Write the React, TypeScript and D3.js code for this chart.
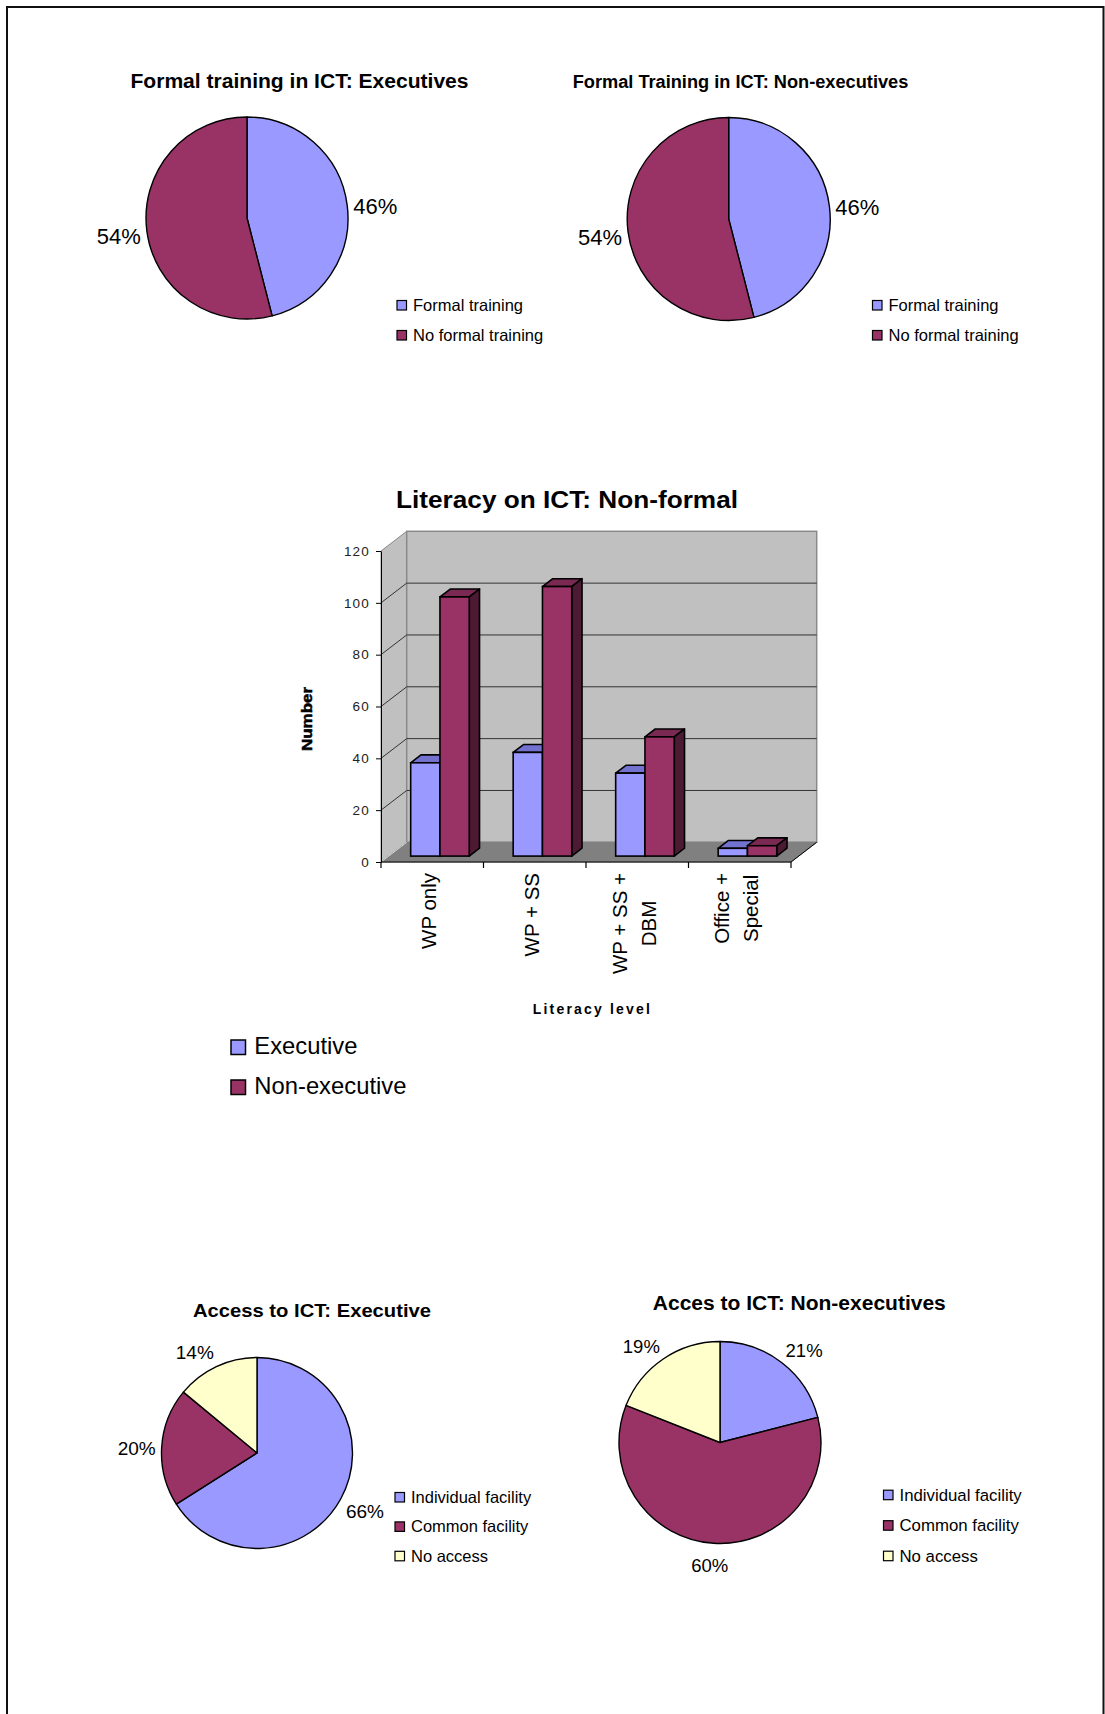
import React, { useEffect, useRef } from 'react';
import * as d3 from 'd3';

const FONT = '"Liberation Sans", Arial, Helvetica, sans-serif';
const BLUE = '#9999FF';
const MAROON = '#993366';
const CREAM = '#FFFFCC';

// pie data (percent)
const trainingCats = ['Formal training', 'No formal training'];
const trainingExec = [46, 54];
const trainingNonExec = [46, 54];
const accessCats = ['Individual facility', 'Common facility', 'No access'];
const accessExec = [66, 20, 14];
const accessNonExec = [21, 60, 19];

// bar data (counts)
const levels = ['WP only', 'WP + SS', 'WP + SS + DBM', 'Office + Special'];
const levelLines = [['WP only'], ['WP + SS'], ['WP + SS +', 'DBM'], ['Office +', 'Special']];
const groups = ['Executive', 'Non-executive'];
const execCounts = [36, 40, 32, 3];
const nonExecCounts = [100, 104, 46, 4];
const yTicks = [0, 20, 40, 60, 80, 100, 120];

const drawPie = (svg, cfg) => {
  const g = svg.append('g');

  g.append('text')
    .attr('x', cfg.titleX)
    .attr('y', cfg.titleY)
    .attr('text-anchor', 'middle')
    .attr('font-weight', 'bold')
    .attr('font-size', cfg.titleSize)
    .attr('textLength', cfg.titleLen)
    .attr('lengthAdjust', 'spacingAndGlyphs')
    .text(cfg.title);

  const slices = d3
    .pie()
    .sort(null)
    .value(d => d)(cfg.values);
  const arc = d3.arc().innerRadius(0).outerRadius(cfg.r);

  const pg = g.append('g').attr('transform', `translate(${cfg.cx},${cfg.cy})`);
  pg.selectAll('path')
    .data(slices)
    .join('path')
    .attr('d', arc)
    .attr('fill', (d, i) => cfg.colors[i])
    .attr('stroke', '#000')
    .attr('stroke-width', 1.4)
    .attr('stroke-linejoin', 'round');

  // labels sit just outside the rim at the slice's mid angle
  slices.forEach((d, i) => {
    const a = (d.startAngle + d.endAngle) / 2;
    const ux = Math.sin(a);
    const uy = -Math.cos(a);
    const t = pg
      .append('text')
      .attr('font-size', cfg.labelSize)
      .attr('text-anchor', 'middle')
      .attr('dy', '0.35em')
      .text(`${cfg.values[i]}%`);
    const w = t.node().getComputedTextLength();
    const R = cfg.r + 6;
    const sx = Math.max(-1, Math.min(1, ux * 3));
    t.attr('x', R * ux + (w / 2) * sx).attr('y', R * uy + 13 * uy + 3);
  });

  cfg.cats.forEach((c, i) => {
    const by = cfg.legendY + i * cfg.legendStep;
    g.append('rect')
      .attr('x', cfg.legendX)
      .attr('y', by - 10.5)
      .attr('width', 9.5)
      .attr('height', 9.5)
      .attr('fill', cfg.colors[i])
      .attr('stroke', '#000')
      .attr('stroke-width', 1.2);
    g.append('text')
      .attr('x', cfg.legendX + 16)
      .attr('y', by)
      .attr('font-size', cfg.legendSize)
      .text(c);
  });
};

const drawBars = svg => {
  const g = svg.append('g');
  const x0 = 381;
  const x1 = 791;
  const x = d3.scaleBand().domain(levels).range([x0, x1]);
  const xs = d3
    .scaleBand()
    .domain(groups)
    .range([0, x.bandwidth()])
    .paddingOuter(0.75);
  const y = d3.scaleLinear().domain([0, 120]).range([862, 551]);
  const yBase = y(0);
  const yTop = y(120);
  const dx = 25.7;
  const dy = -19.7;

  g.append('text')
    .attr('x', 567)
    .attr('y', 508.3)
    .attr('text-anchor', 'middle')
    .attr('font-weight', 'bold')
    .attr('font-size', 23.5)
    .attr('textLength', 342)
    .attr('lengthAdjust', 'spacingAndGlyphs')
    .text('Literacy on ICT: Non-formal');

  // side wall, back wall, floor
  g.append('polygon')
    .attr('points', [[x0, yBase], [x0 + dx, yBase + dy], [x0 + dx, yTop + dy], [x0, yTop]].join(' '))
    .attr('fill', '#C0C0C0')
    .attr('stroke', '#8a8a8a');
  g.append('rect')
    .attr('x', x0 + dx)
    .attr('y', yTop + dy)
    .attr('width', x1 - x0)
    .attr('height', yBase - yTop)
    .attr('fill', '#C0C0C0')
    .attr('stroke', '#8a8a8a')
    .attr('stroke-width', 1.5);
  g.append('polygon')
    .attr('points', [[x0, yBase], [x1, yBase], [x1 + dx, yBase + dy], [x0 + dx, yBase + dy]].join(' '))
    .attr('fill', '#808080')
    .attr('stroke', '#808080');

  // gridlines
  yTicks
    .filter(v => v > 0 && v < 120)
    .forEach(v => {
      g.append('line')
        .attr('x1', x0 + dx)
        .attr('x2', x1 + dx)
        .attr('y1', y(v) + dy)
        .attr('y2', y(v) + dy)
        .attr('stroke', '#333')
        .attr('stroke-width', 1);
      g.append('line')
        .attr('x1', x0)
        .attr('x2', x0 + dx)
        .attr('y1', y(v))
        .attr('y2', y(v) + dy)
        .attr('stroke', '#333')
        .attr('stroke-width', 1);
    });
  g.append('line')
    .attr('x1', x0)
    .attr('x2', x0 + dx)
    .attr('y1', yBase)
    .attr('y2', yBase + dy)
    .attr('stroke', '#d8d8d8');

  // bars
  const bars = levels.flatMap((lv, i) => [
    { lv, grp: groups[0], v: execCounts[i], front: BLUE, top: '#7373CF', side: '#5C5CA8' },
    { lv, grp: groups[1], v: nonExecCounts[i], front: MAROON, top: '#7A2952', side: '#4D1A33' }
  ]);
  const f0 = 0.3;
  const f1 = 0.7;
  bars.forEach(b => {
    const xl = x(b.lv) + xs(b.grp);
    const xr = xl + xs.bandwidth();
    const yt = y(b.v);
    const fx = f0 * dx;
    const fy = f0 * dy;
    const bx = f1 * dx;
    const by = f1 * dy;
    const sw = 1.6;
    g.append('polygon')
      .attr('points', [[xl + fx, yt + fy], [xr + fx, yt + fy], [xr + bx, yt + by], [xl + bx, yt + by]].join(' '))
      .attr('fill', b.top)
      .attr('stroke', '#000')
      .attr('stroke-width', sw)
      .attr('stroke-linejoin', 'round');
    g.append('polygon')
      .attr('points', [[xr + fx, yt + fy], [xr + bx, yt + by], [xr + bx, yBase + by], [xr + fx, yBase + fy]].join(' '))
      .attr('fill', b.side)
      .attr('stroke', '#000')
      .attr('stroke-width', sw)
      .attr('stroke-linejoin', 'round');
    g.append('rect')
      .attr('x', xl + fx)
      .attr('y', yt + fy)
      .attr('width', xr - xl)
      .attr('height', yBase - yt)
      .attr('fill', b.front)
      .attr('stroke', '#000')
      .attr('stroke-width', sw);
  });

  g.append('line')
    .attr('x1', x1)
    .attr('x2', x1 + dx)
    .attr('y1', yBase)
    .attr('y2', yBase + dy)
    .attr('stroke', '#000')
    .attr('stroke-width', 1);

  // y axis
  const yAxis = d3
    .axisLeft(y)
    .tickValues(yTicks)
    .tickSize(5)
    .tickSizeOuter(0)
    .tickPadding(6);
  const ya = g
    .append('g')
    .attr('transform', `translate(${x0},0)`)
    .call(yAxis);
  ya.select('.domain').attr('stroke', '#000');
  ya.selectAll('line').attr('stroke', '#000');
  ya.selectAll('text')
    .attr('font-family', FONT)
    .attr('font-size', 13.5)
    .attr('letter-spacing', 1.2)
    .attr('fill', '#222');

  // x axis with ticks at category boundaries
  g.append('line')
    .attr('x1', x0)
    .attr('x2', x1)
    .attr('y1', yBase)
    .attr('y2', yBase)
    .attr('stroke', '#000')
    .attr('stroke-width', 1.2);
  levels
    .map(d => x(d))
    .concat([x1])
    .forEach(tx => {
      g.append('line')
        .attr('x1', tx)
        .attr('x2', tx)
        .attr('y1', yBase)
        .attr('y2', yBase + 6)
        .attr('stroke', '#000')
        .attr('stroke-width', 1.2);
    });

  // rotated category labels, top aligned just under the axis
  levels.forEach((lv, i) => {
    const lines = levelLines[i];
    const cx = x(lv) + x.bandwidth() / 2 - 3;
    const lineH = 29;
    const texts = lines.map(ln =>
      g
        .append('text')
        .attr('font-size', 20.5)
        .attr('text-anchor', 'middle')
        .attr('dy', '0.35em')
        .text(ln)
    );
    const maxLen = d3.max(texts, t => t.node().getComputedTextLength());
    const cy = 873 + maxLen / 2;
    texts.forEach((t, j) => {
      const off = (j - (lines.length - 1) / 2) * lineH;
      t.attr('transform', `translate(${cx + off},${cy}) rotate(-90)`);
    });
  });

  g.append('text')
    .attr('transform', 'translate(306.7,719) rotate(-90)')
    .attr('text-anchor', 'middle')
    .attr('dy', '0.35em')
    .attr('font-weight', 900)
    .attr('font-size', 14.5)
    .attr('stroke', '#000')
    .attr('stroke-width', 0.5)
    .attr('textLength', 64)
    .attr('lengthAdjust', 'spacingAndGlyphs')
    .text('Number');

  g.append('text')
    .attr('x', 591.3)
    .attr('y', 1014)
    .attr('text-anchor', 'middle')
    .attr('font-weight', 'bold')
    .attr('font-size', 14)
    .attr('textLength', 117)
    .attr('lengthAdjust', 'spacing')
    .text('Literacy level');

  // legend
  groups.forEach((grp, i) => {
    const by = 1053.8 + i * 40;
    g.append('rect')
      .attr('x', 231)
      .attr('y', by - 13.8)
      .attr('width', 14.5)
      .attr('height', 14.5)
      .attr('fill', i === 0 ? BLUE : MAROON)
      .attr('stroke', '#000')
      .attr('stroke-width', 1.5);
    g.append('text')
      .attr('x', 254.3)
      .attr('y', by)
      .attr('font-size', 23.8)
      .text(grp);
  });
};

const App = () => {
  const ref = useRef(null);

  useEffect(() => {
    const svg = d3.select(ref.current);
    svg.selectAll('*').remove();

    // page frame
    svg.append('path')
      .attr('d', 'M7,1714 V7 H1103.5 V1714')
      .attr('fill', 'none')
      .attr('stroke', '#111')
      .attr('stroke-width', 2);

    drawPie(svg, {
      title: 'Formal training in ICT: Executives',
      titleX: 299.5, titleY: 88.3, titleSize: 20, titleLen: 338,
      cx: 247, cy: 218, r: 101,
      values: trainingExec, cats: trainingCats, colors: [BLUE, MAROON],
      labelSize: 22,
      legendX: 397, legendY: 311, legendStep: 30, legendSize: 16.5
    });
    drawPie(svg, {
      title: 'Formal Training in ICT: Non-executives',
      titleX: 740.5, titleY: 87.7, titleSize: 18, titleLen: 335.6,
      cx: 728.7, cy: 219, r: 101.5,
      values: trainingNonExec, cats: trainingCats, colors: [BLUE, MAROON],
      labelSize: 22,
      legendX: 872.5, legendY: 311, legendStep: 30, legendSize: 16.5
    });

    drawBars(svg);

    drawPie(svg, {
      title: 'Access to ICT: Executive',
      titleX: 312, titleY: 1317, titleSize: 19, titleLen: 238,
      cx: 257, cy: 1453, r: 95.5,
      values: accessExec, cats: accessCats, colors: [BLUE, MAROON, CREAM],
      labelSize: 19,
      legendX: 395, legendY: 1503, legendStep: 29.4, legendSize: 16.5
    });
    drawPie(svg, {
      title: 'Acces to ICT: Non-executives',
      titleX: 799.3, titleY: 1310, titleSize: 19.5, titleLen: 293,
      cx: 720, cy: 1442.5, r: 101,
      values: accessNonExec, cats: accessCats, colors: [BLUE, MAROON, CREAM],
      labelSize: 18.5,
      legendX: 883.5, legendY: 1500.7, legendStep: 30.5, legendSize: 16.8
    });
  }, []);

  return (
    <svg
      ref={ref}
      width={1105}
      height={1714}
      style={{ position: 'absolute', left: 0, top: 0, background: '#fff' }}
      fontFamily={FONT}
    />
  );
};

export default App;
